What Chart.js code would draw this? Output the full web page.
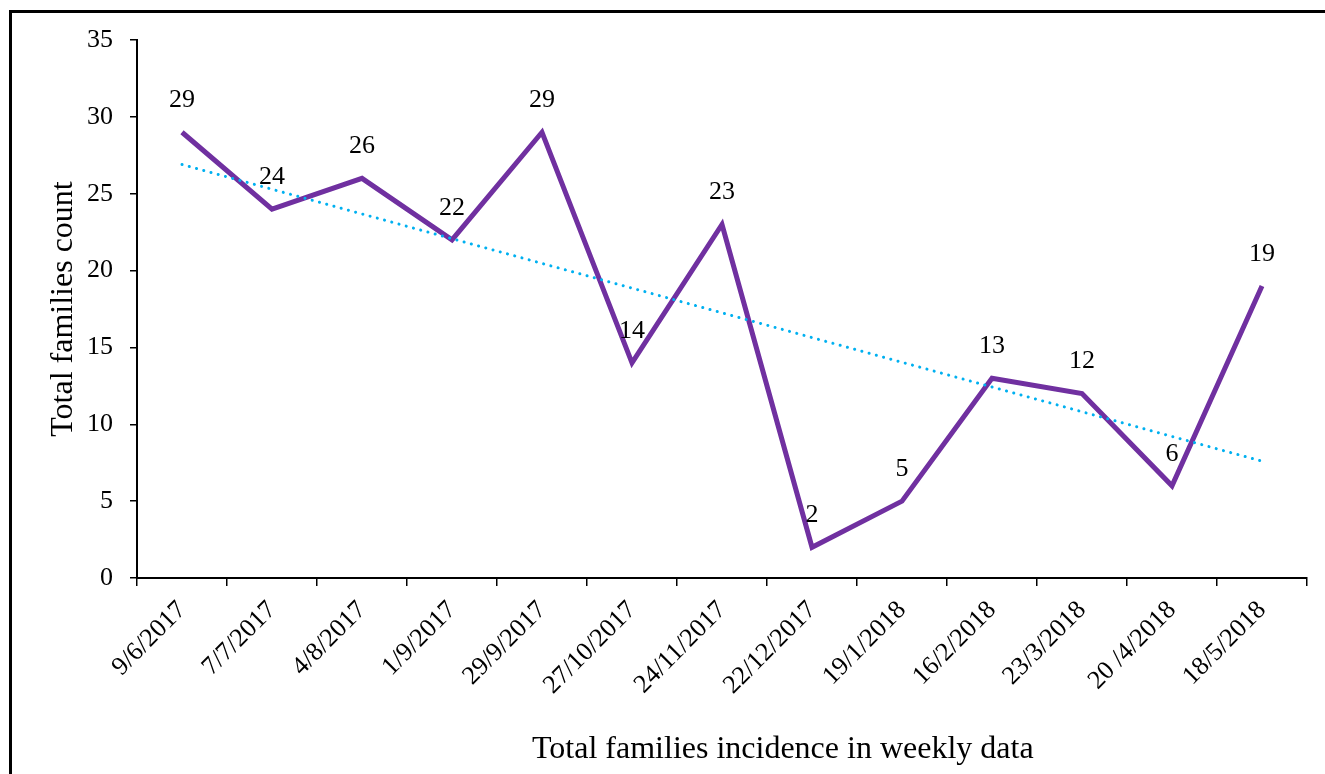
<!DOCTYPE html>
<html>
<head>
<meta charset="utf-8">
<script src="https://cdn.jsdelivr.net/npm/chart.js@4/dist/chart.umd.min.js"></script>
<style>
  html, body { margin: 0; padding: 0; background: #fff; overflow: hidden; }
  #wrap { position: relative; width: 1325px; height: 774px; }
  canvas { position: absolute; left: 0; top: 0; }
  #frame {
    position: absolute; left: 9px; top: 10px; width: 1400px; height: 900px;
    border-top: 3px solid #000; border-left: 3px solid #000; pointer-events: none;
  }
</style>
</head>
<body>
<div id="wrap">
  <canvas id="c" width="1325" height="774"></canvas>
  <div id="frame"></div>
</div>
<script>
// Weekly sampling dates
const dates = ['9/6/2017', '7/7/2017', '4/8/2017', '1/9/2017', '29/9/2017', '27/10/2017',
  '24/11/2017', '22/12/2017', '19/1/2018', '16/2/2018', '23/3/2018', '20 /4/2018', '18/5/2018'];
// Total families counted on each date
const familyCounts = [29, 24, 26, 22, 29, 14, 23, 2, 5, 13, 12, 6, 19];
// Linear trend line: value at the first and at the last date
const trendEnds = [26.9, 7.6];
// Y axis range and step
const yTicks = { min: 0, max: 35, step: 5 };

const serif = "'Liberation Serif', 'Times New Roman', 'DejaVu Serif', serif";

// Numbers above each point of the main series
const pointValueLabels = {
  id: 'pointValueLabels',
  afterDatasetsDraw(chart) {
    const ctx = chart.ctx;
    const meta = chart.getDatasetMeta(1);
    const values = chart.data.datasets[1].data;
    ctx.save();
    ctx.font = '26px ' + serif;
    ctx.fillStyle = '#000';
    ctx.textAlign = 'center';
    ctx.textBaseline = 'middle';
    meta.data.forEach((pt, i) => {
      ctx.fillText(String(values[i]), pt.x, pt.y - 32);
    });
    ctx.restore();
  }
};

// Horizontal axis caption
const xCaption = {
  id: 'xCaption',
  afterDraw(chart) {
    const ctx = chart.ctx;
    const area = chart.chartArea;
    ctx.save();
    ctx.font = '32px ' + serif;
    ctx.fillStyle = '#000';
    ctx.textAlign = 'center';
    ctx.textBaseline = 'middle';
    ctx.fillText('Total families incidence in weekly data', area.left + area.width * 0.552, 750);
    ctx.restore();
  }
};

new Chart(document.getElementById('c'), {
  type: 'line',
  data: {
    labels: dates,
    datasets: [
      {
        label: 'Linear trend',
        data: [{ x: dates[0], y: trendEnds[0] }, { x: dates[dates.length - 1], y: trendEnds[1] }],
        borderColor: '#00B0F0',
        borderWidth: 3,
        borderDash: [0.1, 7.4],
        borderCapStyle: 'round',
        pointRadius: 0,
        fill: false,
        tension: 0,
        order: 0
      },
      {
        label: 'Total families',
        data: familyCounts,
        borderColor: '#7030A0',
        borderWidth: 5,
        borderJoinStyle: 'miter',
        pointRadius: 0,
        fill: false,
        tension: 0,
        order: 1
      }
    ]
  },
  options: {
    responsive: false,
    animation: false,
    devicePixelRatio: 1,
    layout: { padding: { top: 40, right: 18, bottom: 0, left: 0 } },
    plugins: { legend: { display: false }, tooltip: { enabled: false } },
    scales: {
      x: {
        type: 'category',
        offset: true,
        afterFit(scale) { scale.height = 196; },
        grid: {
          offset: true,
          drawOnChartArea: false,
          drawTicks: true,
          tickLength: 8,
          color: '#000',
          lineWidth: 1.5
        },
        border: { display: true, color: '#000', width: 2 },
        ticks: {
          autoSkip: false,
          minRotation: 45,
          maxRotation: 45,
          padding: 9,
          color: '#000',
          font: { family: serif, size: 26 }
        },
        title: { display: false }
      },
      y: {
        min: yTicks.min,
        max: yTicks.max,
        afterFit(scale) { scale.width = 137; },
        grid: {
          drawOnChartArea: false,
          drawTicks: true,
          tickLength: 7,
          color: '#000',
          lineWidth: 1.5
        },
        border: { display: true, color: '#000', width: 2 },
        ticks: {
          stepSize: yTicks.step,
          padding: 17,
          color: '#000',
          font: { family: serif, size: 26 }
        },
        title: {
          display: true,
          text: 'Total families count',
          color: '#000',
          font: { family: serif, size: 32 },
          padding: { top: 44, bottom: 0 }
        }
      }
    }
  },
  plugins: [pointValueLabels, xCaption]
});
</script>
</body>
</html>
